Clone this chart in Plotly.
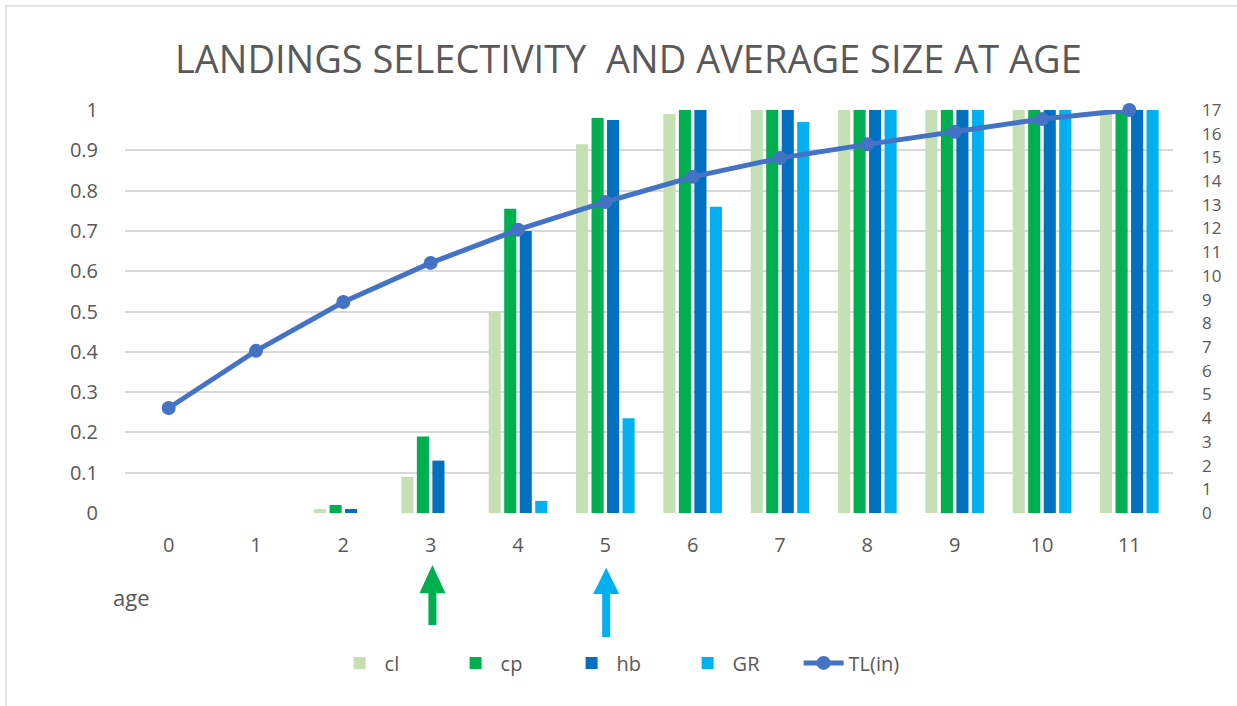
import plotly.graph_objects as go

ages = [0, 1, 2, 3, 4, 5, 6, 7, 8, 9, 10, 11]
cl = [0, 0, 0.01, 0.09, 0.50, 0.915, 0.99, 1, 1, 1, 1, 1]
cp = [0, 0, 0.02, 0.19, 0.755, 0.98, 1, 1, 1, 1, 1, 1]
hb = [0, 0, 0.01, 0.13, 0.70, 0.975, 1, 1, 1, 1, 1, 1]
gr = [0, 0, 0, 0, 0.03, 0.235, 0.76, 0.97, 1, 1, 1, 1]
tl = [4.43, 6.84, 8.9, 10.55, 11.95, 13.12, 14.18, 14.97, 15.55, 16.08, 16.62, 17.0]
left_ticks = [0, 0.1, 0.2, 0.3, 0.4, 0.5, 0.6, 0.7, 0.8, 0.9, 1]
left_labels = ["0", "0.1", "0.2", "0.3", "0.4", "0.5", "0.6", "0.7", "0.8", "0.9", "1"]
right_ticks = list(range(0, 18))

FONT = "Open Sans"
TXT = "#595959"
GRID = "#D9D9D9"

fig = go.Figure()
for name, vals, col in [("cl", cl, "#C5E0B4"), ("cp", cp, "#00B050"),
                        ("hb", hb, "#0070C0"), ("GR", gr, "#00B0F0")]:
    fig.add_trace(go.Bar(x=ages, y=vals, name=name, marker=dict(color=col, line=dict(width=0))))

fig.add_trace(go.Scatter(x=ages, y=tl, name="TL(in)", yaxis="y2", mode="lines+markers",
                         line=dict(color="#4472C4", width=5),
                         marker=dict(color="#4472C4", size=14), cliponaxis=False))


def arrow(xc, tip, base, bottom, hw_head=0.149, hw_shaft=0.046):
    return (f"M {xc},{tip} L {xc + hw_head},{base} L {xc + hw_shaft},{base} "
            f"L {xc + hw_shaft},{bottom} L {xc - hw_shaft},{bottom} L {xc - hw_shaft},{base} "
            f"L {xc - hw_head},{base} Z")


shapes = [
    dict(type="path", xref="x", yref="paper", path=arrow(3.02, -0.129, -0.199, -0.278),
         fillcolor="#00B050", line=dict(width=0)),
    dict(type="path", xref="x", yref="paper", path=arrow(5.01, -0.136, -0.201, -0.308),
         fillcolor="#00B0F0", line=dict(width=0)),
    dict(type="rect", xref="paper", yref="paper", x0=-0.1135, x1=1.07, y0=-0.50, y1=1.258,
         line=dict(color=GRID, width=1.5), fillcolor="rgba(0,0,0,0)", layer="below"),
]

fig.update_layout(
    width=1237, height=706,
    margin=dict(l=125, r=64, t=110, b=193),
    paper_bgcolor="white", plot_bgcolor="white",
    font=dict(family=FONT, color=TXT, size=20),
    title=dict(text="LANDINGS SELECTIVITY  AND AVERAGE SIZE AT AGE",
               x=0.508, xanchor="center", y=0.915, yanchor="middle",
               font=dict(family=FONT, size=38, color=TXT)),
    barmode="group", bargap=0.29, bargroupgap=0.22,
    xaxis=dict(range=[-0.5, 11.5], tickmode="array", tickvals=ages,
               ticktext=[str(a) for a in ages], showgrid=False, zeroline=False,
               showline=False, ticks="", ticklabelstandoff=18,
               tickfont=dict(size=20, color=TXT)),
    yaxis=dict(range=[0, 1], tickmode="array", tickvals=left_ticks, ticktext=left_labels,
               showgrid=True, gridcolor=GRID, gridwidth=1.5, zeroline=False,
               ticks="", ticklabelstandoff=26, tickfont=dict(size=20, color=TXT)),
    yaxis2=dict(range=[0, 17], overlaying="y", side="right", tickmode="array",
                tickvals=right_ticks, ticktext=[str(v) for v in right_ticks],
                showgrid=False, zeroline=False, ticks="", ticklabelstandoff=28,
                tickfont=dict(size=17, color=TXT)),
    legend=dict(orientation="h", x=0.2, xanchor="left", y=-0.372, yanchor="middle",
                font=dict(size=20, color=TXT), itemwidth=40, entrywidth=61,
                entrywidthmode="pixels", traceorder="normal"),
    shapes=shapes,
    annotations=[dict(text="age", xref="paper", yref="paper", x=0.006, y=-0.208,
                      xanchor="center", yanchor="middle", showarrow=False,
                      font=dict(size=22, color=TXT))],
)

fig.write_html("out.html")
